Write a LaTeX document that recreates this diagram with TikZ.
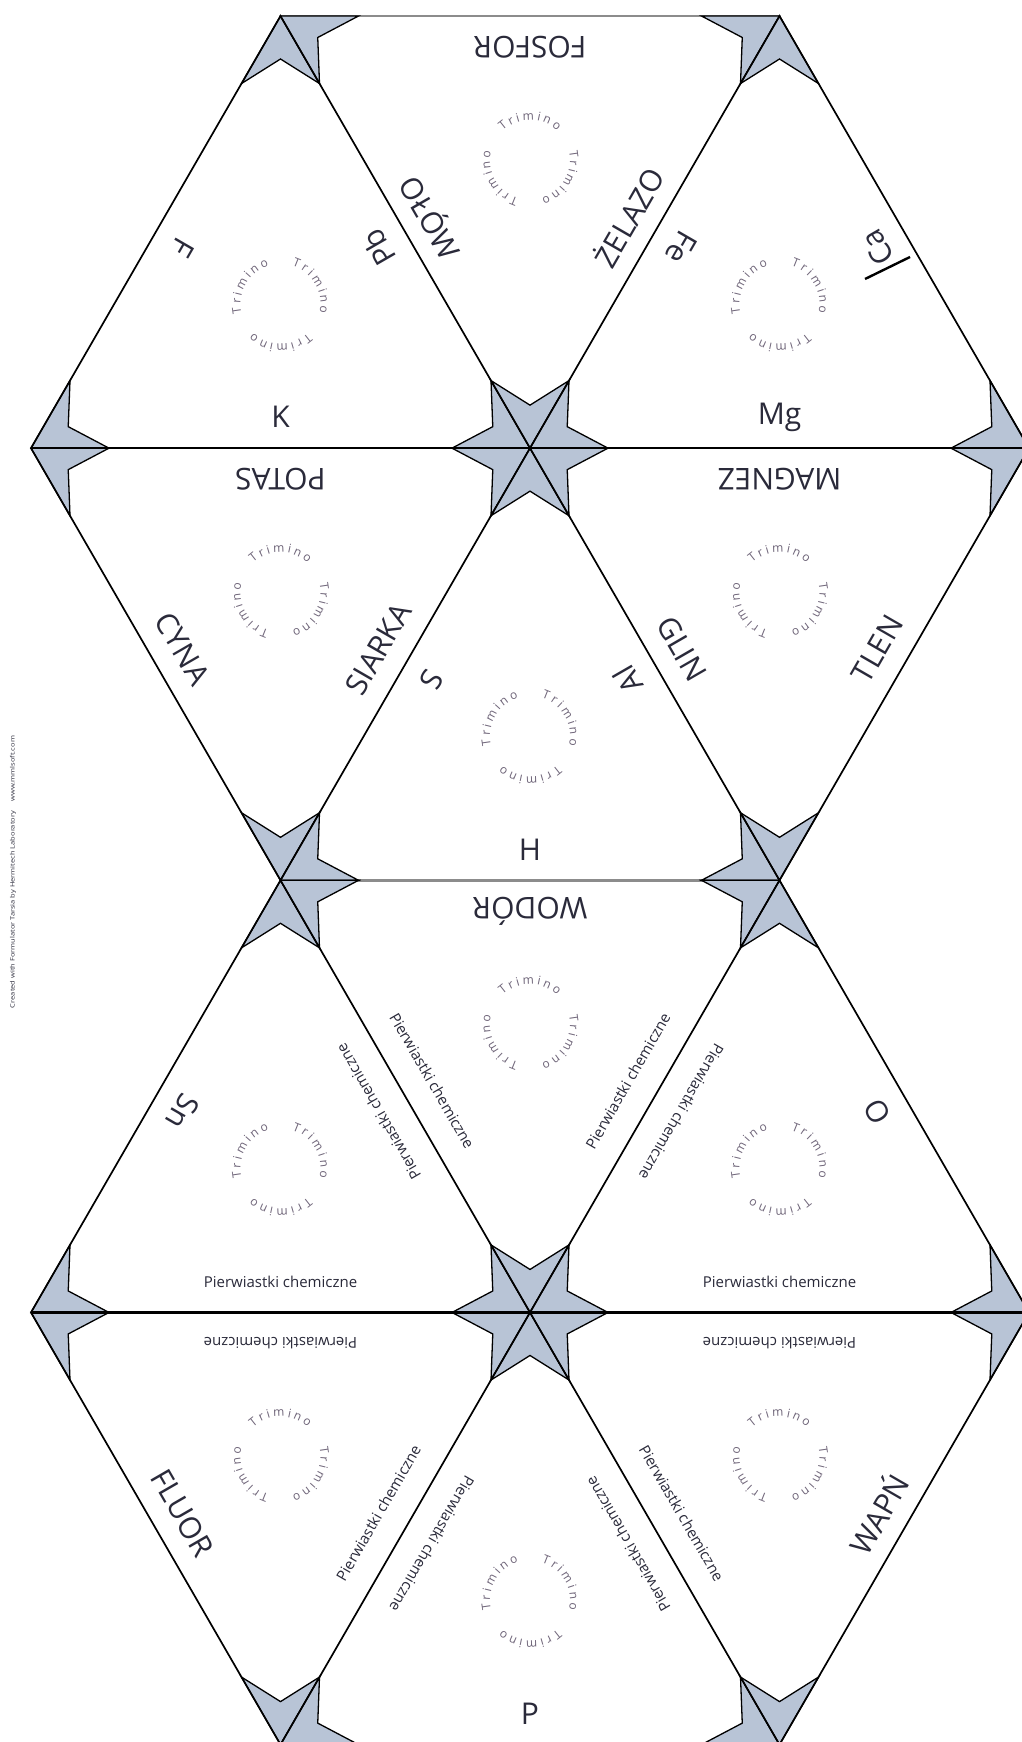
\documentclass[tikz,border=0pt]{standalone}
\usepackage{fontspec}
\setmainfont{Open Sans}
\usetikzlibrary{calc,decorations.text}
\definecolor{starfill}{HTML}{B8C4D6}
\definecolor{labcol}{HTML}{2A2A3A}
\definecolor{trimcol}{HTML}{6E6478}
\newcommand\trimfont{\fontsize{12}{12}\selectfont}
\newcommand\mykite[3]{\filldraw[kite] (#1) -- ($(#1)!78pt!(#2)$) -- ($(#1)!43pt!(barycentric cs:#2=1,#3=1)$) -- ($(#1)!78pt!(#3)$) -- cycle;}
\newcommand\cornerkites[3]{\mykite{#1}{#2}{#3}\mykite{#2}{#3}{#1}\mykite{#3}{#1}{#2}}
\newcommand\elab[6][lab]{\node[#1,rotate=#5] at ($(barycentric cs:#2=1,#3=1)!31pt!(#4)$) {#6};}
\newcommand\pch{Pierwiastki chemiczne}
\newcommand\trimcircle[4]{%
  \foreach \ang in {30,150,270}{%
    \pgfmathsetmacro\cang{\ang+#4}
    \path[decorate,decoration={text along path,text={|\trimfont\color{trimcol}|Trimino},text align={fit to path}}]
      (barycentric cs:#1=1,#2=1,#3=1) ++(\cang+43:40) arc[start angle=\cang+43,end angle=\cang-43,radius=40];
  }}
\begin{document}
\begin{tikzpicture}[x=1pt,y=1pt,
  kite/.style={fill=starfill,draw=black,line width=1.3pt,line join=miter},
  edgeline/.style={draw=black,line width=1.7pt},
  hline/.style={draw=black,line width=2.6pt},
  softline/.style={draw=black!45,line width=2.4pt},
  lab/.style={font=\fontsize{30}{30}\selectfont,text=labcol,inner sep=0pt},
  smalllab/.style={font=\fontsize{15}{15}\selectfont,text=labcol,inner sep=0pt},
  foot/.style={font=\fontsize{6}{6}\selectfont,text=labcol,inner sep=0pt}]
\useasboundingbox (0,0) rectangle (1022,-1742);
\clip (0,0) rectangle (1022,-1742);
\fill[white] (0,0) rectangle (1022,-1742);
% vertices
\coordinate (a0) at (280.5,-16);   \coordinate (a1) at (779.5,-16);
\coordinate (b0) at (31,-448.15);  \coordinate (b1) at (530,-448.15); \coordinate (b2) at (1029,-448.15);
\coordinate (c0) at (280.5,-880.3); \coordinate (c1) at (779.5,-880.3);
\coordinate (d0) at (31,-1312.45); \coordinate (d1) at (530,-1312.45); \coordinate (d2) at (1029,-1312.45);
\coordinate (e0) at (280.5,-1744.6); \coordinate (e1) at (779.5,-1744.6);
% soft horizontal edges
\draw[softline] (a0) -- (a1);
\draw[softline] (c0) -- (c1);
\draw[softline] (e0) -- (e1);
% corner kites (stars)
\cornerkites{a0}{b0}{b1}
\cornerkites{a0}{a1}{b1}
\cornerkites{a1}{b1}{b2}
\cornerkites{b0}{b1}{c0}
\cornerkites{b1}{c0}{c1}
\cornerkites{b1}{b2}{c1}
\cornerkites{c0}{d0}{d1}
\cornerkites{c0}{c1}{d1}
\cornerkites{c1}{d1}{d2}
\cornerkites{d0}{d1}{e0}
\cornerkites{d1}{e0}{e1}
\cornerkites{d1}{d2}{e1}
% diagonal edges
\draw[edgeline] (b0) -- (a0) -- (b1) -- (a1) -- (b2);
\draw[edgeline] (b0) -- (c0) -- (b1) -- (c1) -- (b2);
\draw[edgeline] (d0) -- (c0) -- (d1) -- (c1) -- (d2);
\draw[edgeline] (d0) -- (e0) -- (d1) -- (e1) -- (d2);
% full horizontal edges
\draw[hline] (b0) -- (b2);
\draw[hline] (d0) -- (d2);
% Trimino circles
\trimcircle{a0}{b0}{b1}{0}
\trimcircle{a0}{a1}{b1}{180}
\trimcircle{a1}{b1}{b2}{0}
\trimcircle{b0}{b1}{c0}{180}
\trimcircle{b1}{c0}{c1}{0}
\trimcircle{b1}{b2}{c1}{180}
\trimcircle{c0}{d0}{d1}{0}
\trimcircle{c0}{c1}{d1}{180}
\trimcircle{c1}{d1}{d2}{0}
\trimcircle{d0}{d1}{e0}{180}
\trimcircle{d1}{e0}{e1}{0}
\trimcircle{d1}{d2}{e1}{180}
% T1
\elab{b0}{b1}{a0}{0}{K}
\elab{a0}{b0}{b1}{-120}{F}
\elab{a0}{b1}{b0}{120}{Pb}
% T2
\elab{a0}{a1}{b1}{180}{FOSFOR}
\elab{a0}{b1}{a1}{-60}{OŁÓW}
\elab{a1}{b1}{a0}{60}{ŻELAZO}
% T3
\elab{b1}{b2}{a1}{0}{Mg}
\elab{a1}{b1}{b2}{-120}{Fe}
\elab{a1}{b2}{b1}{120}{Ca}
\coordinate (mk1) at (865,-279); \coordinate (mk2) at (910,-257);
\draw[line width=2.4pt] (mk1) -- (mk2);
% T4
\elab{b0}{b1}{c0}{180}{POTAS}
\elab{b0}{c0}{b1}{-60}{CYNA}
\elab{b1}{c0}{b0}{60}{SIARKA}
% T5
\elab{c0}{c1}{b1}{0}{H}
\elab{b1}{c0}{c1}{-120}{S}
\elab{b1}{c1}{c0}{120}{Al}
% T6
\elab{b1}{b2}{c1}{180}{MAGNEZ}
\elab{b1}{c1}{b2}{-60}{GLIN}
\elab{b2}{c1}{b1}{60}{TLEN}
% T7
\elab[smalllab]{d0}{d1}{c0}{0}{\pch}
\elab{c0}{d0}{d1}{-120}{Sn}
\elab[smalllab]{c0}{d1}{d0}{120}{\pch}
% T8
\elab{c0}{c1}{d1}{180}{WODÓR}
\elab[smalllab]{c0}{d1}{c1}{-60}{\pch}
\elab[smalllab]{c1}{d1}{c0}{60}{\pch}
% T9
\elab[smalllab]{d1}{d2}{c1}{0}{\pch}
\elab[smalllab]{c1}{d1}{d2}{-120}{\pch}
\elab{c1}{d2}{d1}{120}{O}
% T10
\elab[smalllab]{d0}{d1}{e0}{180}{\pch}
\elab{d0}{e0}{d1}{-60}{FLUOR}
\elab[smalllab]{d1}{e0}{d0}{60}{\pch}
% T11
\elab{e0}{e1}{d1}{0}{P}
\elab[smalllab]{d1}{e0}{e1}{-120}{\pch}
\elab[smalllab]{d1}{e1}{e0}{120}{\pch}
% T12
\elab[smalllab]{d1}{d2}{e1}{180}{\pch}
\elab[smalllab]{d1}{e1}{d2}{-60}{\pch}
\elab{d2}{e1}{d1}{60}{WAPŃ}
% footer
\node[foot,rotate=90] (footer) at (13,-872) {\scalebox{1.25}[1]{Created with Formulator Tarsia by Hermitech Laboratory \quad www.mmlsoft.com}};
\end{tikzpicture}
\end{document}
